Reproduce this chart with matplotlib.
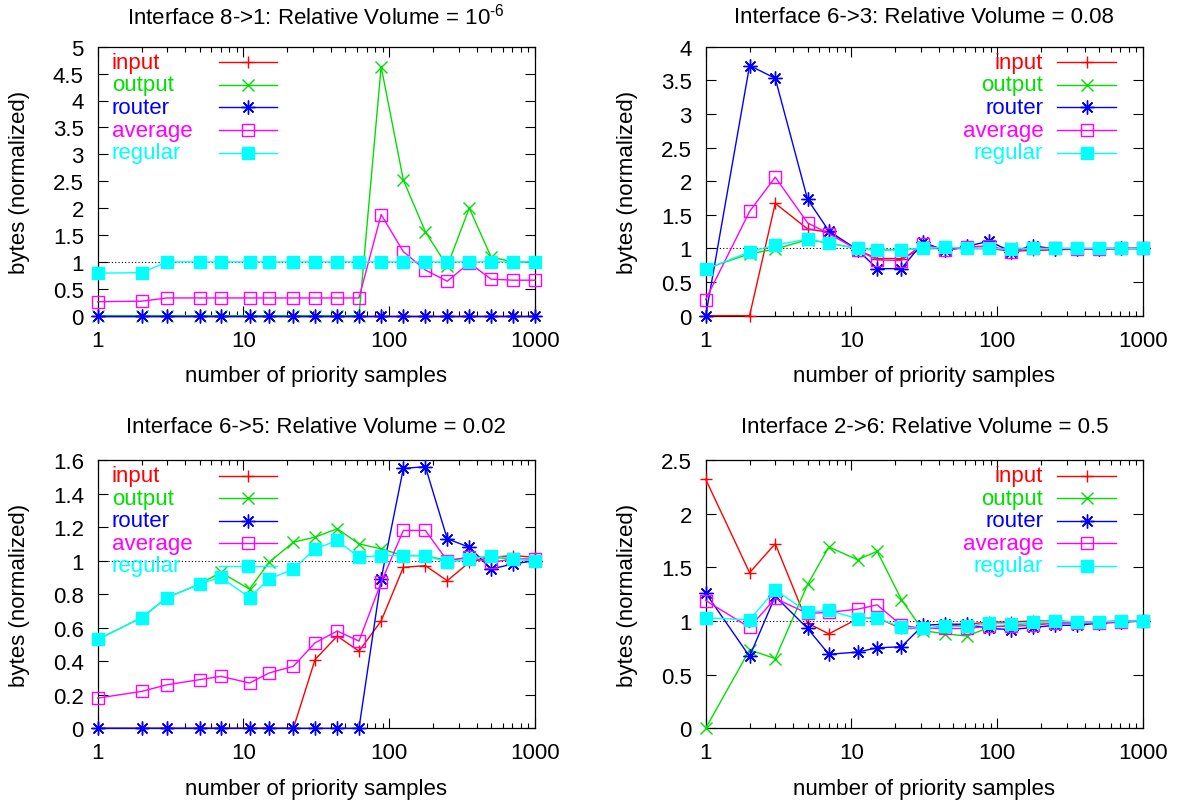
import matplotlib
matplotlib.use("Agg")
import matplotlib.pyplot as plt
from matplotlib.ticker import FuncFormatter, LogLocator, NullFormatter

plt.rcParams['font.family'] = ['Liberation Sans', 'DejaVu Sans']
plt.rcParams['mathtext.fontset'] = 'custom'
plt.rcParams['mathtext.rm'] = 'Liberation Sans'
plt.rcParams['mathtext.default'] = 'rm'

# number of priority samples (shared x values)
x_samples = [1, 2, 3, 5, 7, 11, 15, 22, 31, 44, 62, 88, 125, 177, 250, 354, 500, 707, 1000]

series_names = ['input', 'output', 'router', 'average', 'regular']

# Interface 8->1
in_81 = [0, 0, 0, 0, 0, 0, 0, 0, 0, 0, 0, 0, 0, 0, 0, 0, 0, 0, 0]
out_81 = [0, 0, 0, 0, 0, 0, 0, 0, 0, 0, 0, 4.63, 2.52, 1.56, 0.92, 2.0, 1.09, 1.0, 1.0]
rtr_81 = [0, 0, 0, 0, 0, 0, 0, 0, 0, 0, 0, 0, 0, 0, 0, 0, 0, 0, 0]
avg_81 = [0.26, 0.27, 0.33, 0.33, 0.33, 0.33, 0.33, 0.33, 0.33, 0.33, 0.33, 1.88, 1.19, 0.85, 0.64, 0.98, 0.68, 0.66, 0.66]
reg_81 = [0.79, 0.80, 1, 1, 1, 1, 1, 1, 1, 1, 1, 1, 1, 1, 1, 1, 1, 1, 1]

# Interface 6->3
in_63 = [0, 0, 1.67, 1.29, 1.24, 0.98, 0.85, 0.85, 1.0, 1.0, 1.0, 1.0, 0.96, 0.97, 0.98, 0.99, 1.0, 1.0, 1.0]
out_63 = [0.70, 0.92, 0.99, 1.13, 1.08, 1.0, 0.98, 0.98, 1.0, 1.0, 1.0, 1.0, 1.0, 1.0, 1.0, 1.0, 1.0, 1.0, 1.0]
rtr_63 = [0, 3.72, 3.53, 1.73, 1.26, 0.98, 0.70, 0.70, 1.09, 0.97, 1.03, 1.11, 0.95, 1.04, 0.99, 0.99, 0.99, 1.0, 1.0]
avg_63 = [0.24, 1.55, 2.06, 1.38, 1.22, 0.98, 0.83, 0.82, 1.07, 0.97, 1.02, 1.04, 0.95, 1.0, 1.0, 0.99, 0.99, 1.0, 1.0]
reg_63 = [0.69, 0.95, 1.05, 1.14, 1.08, 1.0, 0.97, 0.98, 1.0, 1.02, 1.0, 1.0, 0.99, 1.0, 1.0, 1.0, 1.0, 1.0, 1.0]

# Interface 6->5
in_65 = [0, 0, 0, 0, 0, 0, 0, 0, 0.41, 0.55, 0.46, 0.64, 0.96, 0.97, 0.88, 0.99, 1.02, 1.03, 1.02]
out_65 = [0.53, 0.66, 0.78, 0.86, 0.93, 0.83, 0.99, 1.11, 1.14, 1.19, 1.10, 1.07, 1.03, 1.03, 1.0, 1.02, 1.02, 1.01, 1.0]
rtr_65 = [0, 0, 0, 0, 0, 0, 0, 0, 0, 0, 0, 0.89, 1.55, 1.56, 1.13, 1.08, 0.95, 0.98, 1.0]
avg_65 = [0.18, 0.22, 0.26, 0.29, 0.31, 0.27, 0.33, 0.37, 0.51, 0.58, 0.52, 0.87, 1.18, 1.18, 1.0, 1.02, 0.99, 1.01, 1.01]
reg_65 = [0.53, 0.66, 0.78, 0.86, 0.90, 0.78, 0.89, 0.95, 1.07, 1.12, 1.02, 1.03, 1.03, 1.03, 0.99, 1.01, 1.03, 1.01, 1.0]

# Interface 2->6
in_26 = [2.32, 1.45, 1.72, 0.98, 0.88, 1.02, 1.03, 0.93, 0.93, 0.95, 0.97, 0.99, 0.99, 1.0, 1.0, 0.99, 0.99, 1.0, 1.0]
out_26 = [0, 0.73, 0.65, 1.34, 1.69, 1.57, 1.65, 1.20, 0.91, 0.88, 0.86, 0.94, 0.96, 0.98, 0.98, 0.99, 0.99, 1.0, 1.0]
rtr_26 = [1.26, 0.67, 1.23, 0.93, 0.69, 0.71, 0.75, 0.76, 0.96, 0.97, 0.97, 0.93, 0.92, 0.94, 0.96, 0.96, 0.98, 0.99, 1.0]
avg_26 = [1.19, 0.94, 1.21, 1.07, 1.08, 1.11, 1.15, 0.96, 0.93, 0.93, 0.93, 0.95, 0.95, 0.96, 0.98, 0.98, 0.98, 0.99, 1.0]
reg_26 = [1.03, 1.01, 1.29, 1.08, 1.10, 1.02, 1.03, 0.94, 0.93, 0.95, 0.95, 0.98, 0.97, 0.99, 1.0, 0.99, 0.99, 1.0, 1.0]

colors = ['#ff0000', '#00e000', '#0000ff', '#ff00ff', '#00ffff']
# marker style: (marker, size, filled)
markers = [('+', 9, False), ('x', 8, False), ((8, 2, 0), 10, False), ('s', 8.5, False), ('s', 8, True)]

FS = 16


def style(i):
    m, ms, filled = markers[i]
    c = colors[i]
    return dict(color=c, lw=1.0, marker=m, ms=ms, mew=1.0,
                mec=c, mfc=c if filled else 'none')


def draw_panel(ax, title, data, ymax, ystep, key_left, title_pad, xlab_y):
    ax.axhline(1.0, color='black', lw=0.8, ls=(0, (1, 2)), zorder=3)
    for i, ys in enumerate(data):
        ax.plot(x_samples, ys, clip_on=False, zorder=4 + i, **style(i))
    ax.set_xscale('log')
    ax.set_xlim(1, 1000)
    ax.set_ylim(0, ymax)
    n = int(round(ymax / ystep))
    ax.set_yticks([k * ystep for k in range(n + 1)])
    ax.yaxis.set_major_formatter(FuncFormatter(lambda v, p: '%g' % round(v, 3)))
    ax.set_xticks([1, 10, 100, 1000])
    ax.xaxis.set_major_formatter(FuncFormatter(lambda v, p: '%g' % v))
    ax.xaxis.set_minor_locator(LogLocator(base=10, subs=range(2, 10)))
    ax.xaxis.set_minor_formatter(NullFormatter())
    ax.tick_params(which='both', direction='in', top=True, right=True,
                   labelsize=FS, width=0.8)
    ax.tick_params(which='major', length=7)
    ax.tick_params(which='minor', length=3.5)
    ax.tick_params(axis='y', pad=10)
    ax.tick_params(axis='x', pad=10)
    for sp in ax.spines.values():
        sp.set_linewidth(0.9)
    ax.set_title(title, fontsize=FS, pad=title_pad)
    ax.set_xlabel('number of priority samples', fontsize=FS)
    ax.set_ylabel('bytes (normalized)', fontsize=FS)
    ax.xaxis.set_label_coords(0.5, xlab_y)
    ax.yaxis.set_label_coords(-0.155, 0.5)

    # gnuplot style key: label, then line sample with marker
    row0, drow = 0.942, 0.084
    for i, name in enumerate(series_names):
        yk = row0 - i * drow
        if key_left:
            ax.text(0.032, yk, name, color=colors[i], fontsize=FS, ha='left',
                    va='center', transform=ax.transAxes, zorder=10)
            x0, x1, xm = 0.277, 0.41, 0.344
        else:
            ax.text(0.772, yk, name, color=colors[i], fontsize=FS, ha='right',
                    va='center', transform=ax.transAxes, zorder=10)
            x0, x1, xm = 0.804, 0.9375, 0.871
        st = style(i)
        ax.plot([x0, x1], [yk, yk], color=colors[i], lw=1.0,
                transform=ax.transAxes, zorder=10)
        ax.plot([xm], [yk], ls='none', marker=st['marker'], ms=st['ms'], mew=1.0,
                mec=st['mec'], mfc=st['mfc'], transform=ax.transAxes, zorder=10)


fig = plt.figure(figsize=(11.86, 8.03), dpi=100)
W, H = 1186, 803


def add_ax(left, top, right, bottom):
    return fig.add_axes([left / W, 1 - bottom / H, (right - left) / W, (bottom - top) / H])


ax1 = add_ax(97.7, 47.7, 535, 316.7)
ax2 = add_ax(705.7, 47.7, 1143, 316.7)
ax3 = add_ax(97.7, 461, 535, 729.3)
ax4 = add_ax(705.7, 461, 1143, 729.3)

draw_panel(ax1, r'Interface 8->1: Relative Volume = 10$^{\text{-6}}$',
           [in_81, out_81, rtr_81, avg_81, reg_81], 5, 0.5, True, 17, -0.184)
draw_panel(ax2, 'Interface 6->3: Relative Volume = 0.08',
           [in_63, out_63, rtr_63, avg_63, reg_63], 4, 0.5, False, 18, -0.184)
draw_panel(ax3, 'Interface 6->5: Relative Volume = 0.02',
           [in_65, out_65, rtr_65, avg_65, reg_65], 1.6, 0.2, True, 20, -0.187)
draw_panel(ax4, 'Interface 2->6: Relative Volume = 0.5',
           [in_26, out_26, rtr_26, avg_26, reg_26], 2.5, 0.5, False, 20, -0.187)

fig.savefig('out.png', dpi=100)
